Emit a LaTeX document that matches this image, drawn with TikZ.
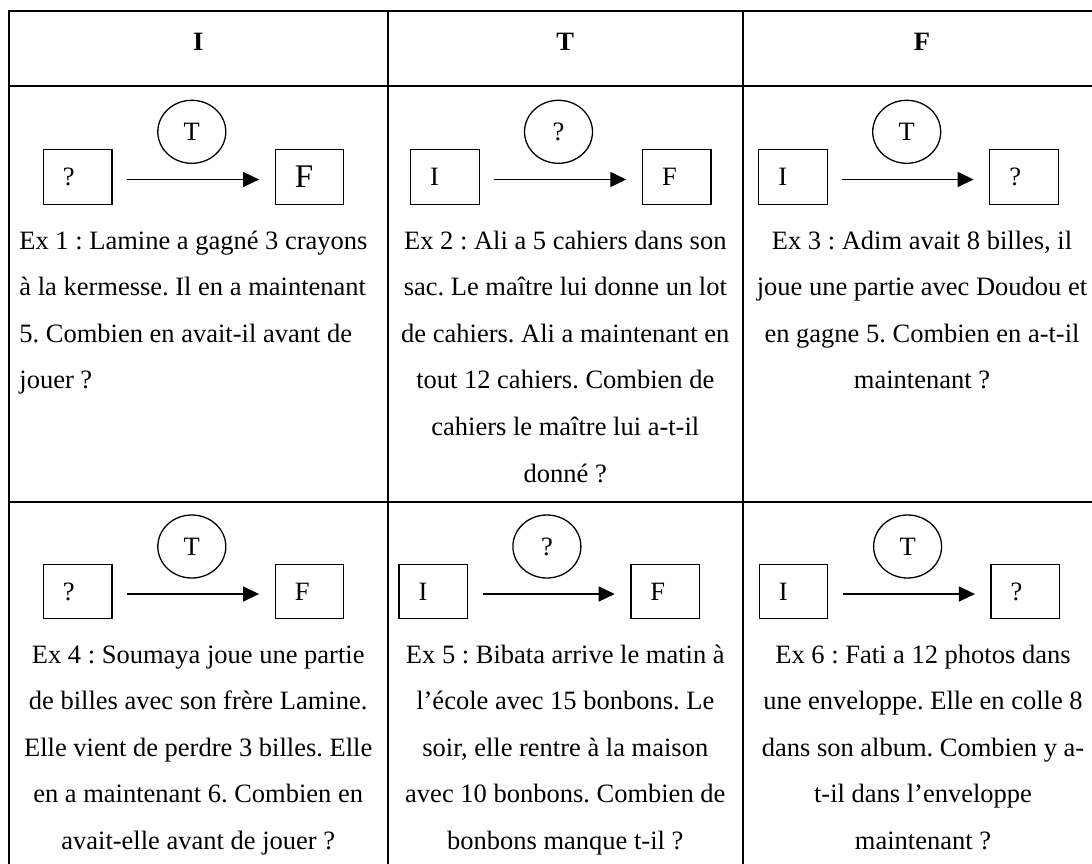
\documentclass[tikz,border=0pt]{standalone}
\usepackage{fontspec}
\setmainfont{Liberation Serif}
\usetikzlibrary{arrows.meta,shapes.geometric}
\frenchspacing
% #1 prefix, #2 x left box, #3 x circle, #4 x right box, #5 y boxes, #6 y circle, #7 left label, #8 circle label, #9 right label
\newcommand\mydiag[9]{%
  \node[qbox] (#1L) at (#2,#5) {};
  \node[qbox] (#1R) at (#4,#5) {};
  \node[qcirc] (#1C) at (#3,#6) {#8};
  \node[lab] (#1Lt) at ([xshift=20pt]#1L.west) {#7};
  \node[lab] (#1Rt) at ([xshift=20pt]#1R.west) {#9};
  \draw[arr] ([xshift=14.5pt,yshift=-2.5pt]#1L.east) -- ([xshift=-15.5pt,yshift=-2.5pt]#1R.west);
}
\begin{document}
\frenchspacing
\begin{tikzpicture}[x=1pt,y=-1pt,
  txt/.style={font=\fontsize{26.5}{46.6}\selectfont\frenchspacing, inner sep=0pt},
  hdr/.style={font=\fontsize{26.5}{30}\selectfont\bfseries, inner sep=0pt, anchor=base},
  qbox/.style={draw, line width=1.3pt, minimum width=68.5pt, minimum height=54.5pt, inner sep=0pt},
  qcirc/.style={draw, ellipse, line width=1.3pt, minimum width=68pt, minimum height=63pt, inner sep=0pt, font=\fontsize{26.5}{30}\selectfont},
  lab/.style={inner sep=0pt, anchor=west, font=\fontsize{26.5}{30}\selectfont},
  arr/.style={line width=1.3pt, -{Triangle[length=16pt,width=15pt]}},
  gridline/.style={line width=2pt, line cap=rect}]
\useasboundingbox (0,0) rectangle (1092,863);
\clip (0,0) rectangle (1092,863);
\fill[white] (0,0) rectangle (1092,863);

% table rules
\draw[gridline] (9,11) -- (1120,11);
\draw[gridline] (9,86) -- (1120,86);
\draw[gridline] (9,502) -- (1120,502);
\draw[gridline] (9,11) -- (9,900);
\draw[gridline] (387.5,11) -- (387.5,900);
\draw[gridline] (743,11) -- (743,900);

% headers
\node[hdr] (hI) at (198.2,50) {I};
\node[hdr] (hT) at (565.3,50) {T};
\node[hdr] (hF) at (922,50) {F};

% diagrams row 1
\mydiag{a}{77.6}{191.8}{309.5}{177}{131.8}{?}{T}{\fontsize{33}{36}\selectfont F}
\mydiag{b}{444.9}{558.5}{676.7}{177}{131.8}{I}{?}{F}
\mydiag{c}{793}{906.7}{1024}{177}{131.8}{I}{T}{?}
% diagrams row 2
\mydiag{d}{77.6}{191.8}{309.5}{591.5}{546.5}{?}{T}{F}
\mydiag{e}{433.2}{546.9}{665.1}{591.5}{546.5}{I}{?}{F}
\mydiag{f}{793.5}{907.6}{1025.3}{591.5}{546.5}{I}{T}{?}

% texts row 1 (anchor = baseline of the last line)
\node[txt, align=left, anchor=base west] (t1) at (19.2,388.8)
  {Ex 1 : Lamine a gagné 3 crayons\\à la kermesse. Il en a maintenant\\5. Combien en avait-il avant de\\jouer ?};
\node[txt, align=center, anchor=base] (t2) at (565.3,482)
  {Ex 2 : Ali a 5 cahiers dans son\\sac. Le maître lui donne un lot\\de cahiers. Ali a maintenant en\\tout 12 cahiers. Combien de\\cahiers le maître lui a-t-il\\donné ?};
\node[txt, align=center, anchor=base] (t3) at (922,388.8)
  {Ex 3 : Adim avait 8 billes, il\\joue une partie avec Doudou et\\en gagne 5. Combien en a-t-il\\maintenant ?};
% texts row 2
\node[txt, align=center, anchor=base] (t4) at (198.2,849.4)
  {Ex 4 : Soumaya joue une partie\\de billes avec son frère Lamine.\\Elle vient de perdre 3 billes. Elle\\en a maintenant 6. Combien en\\avait-elle avant de jouer ?};
\node[txt, align=center, anchor=base] (t5) at (565.3,849.4)
  {Ex 5 : Bibata arrive le matin à\\l’école avec 15 bonbons. Le\\soir, elle rentre à la maison\\avec 10 bonbons. Combien de\\bonbons manque t-il ?};
\node[txt, align=center, anchor=base] (t6) at (923,849.4)
  {Ex 6 : Fati a 12 photos dans\\une enveloppe. Elle en colle 8\\dans son album. Combien y a-\\t-il dans l’enveloppe\\maintenant ?};
\end{tikzpicture}
\end{document}
